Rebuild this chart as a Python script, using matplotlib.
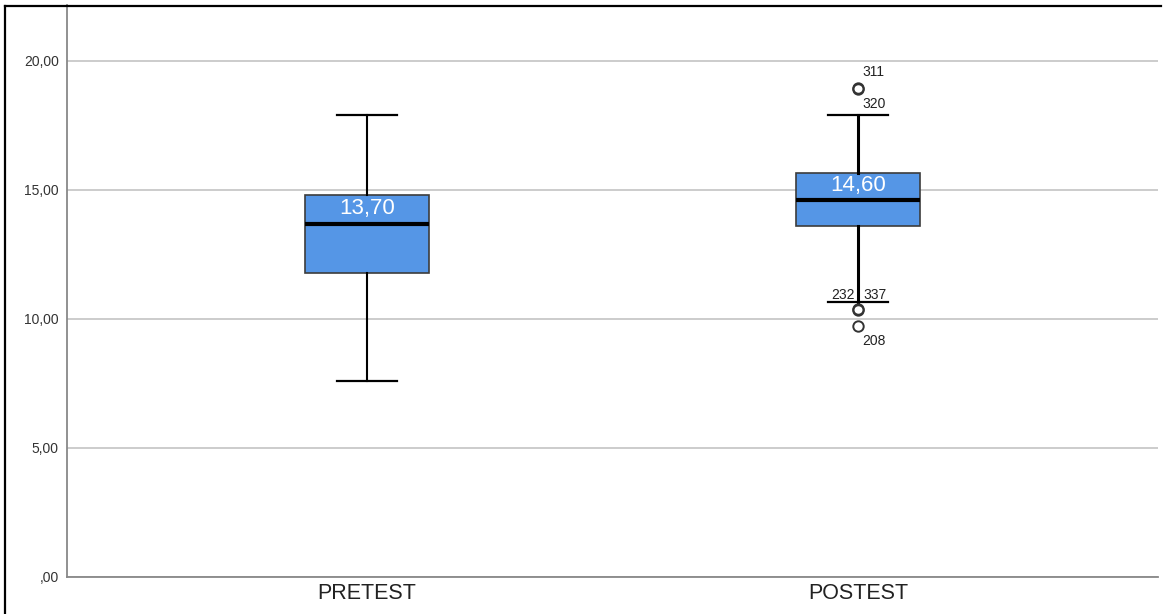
import matplotlib
matplotlib.use('Agg')
from matplotlib import pyplot as plt
from matplotlib.lines import Line2D

groups = ['PRETEST', 'POSTEST']
whislo = [7.6, 10.65]
q1 = [11.8, 13.6]
med = [13.7, 14.6]
q3 = [14.8, 15.65]
whishi = [17.9, 17.9]
fliers = [[], [18.95, 18.9, 10.4, 10.35, 9.73]]
median_labels = ['13,70', '14,60']
yticks = [0, 5, 10, 15, 20]
ytick_labels = [',00', '5,00', '10,00', '15,00', '20,00']

# outlier case numbers: (value, label, dx px, dy px, ha)
outlier_ids = [(18.95, '311', 4, 16, 'left'),
               (18.9, '320', 4, -15, 'left'),
               (10.4, '232', -3, 14, 'right'),
               (10.4, '337', 5, 14, 'left'),
               (9.73, '208', 4, -15, 'left')]

plt.rcParams['font.family'] = ['Liberation Sans', 'DejaVu Sans']

fig = plt.figure(figsize=(11.71, 6.14), dpi=100)
ax = fig.add_axes([67 / 1171, 37 / 614, (1158 - 67) / 1171, (577 - 5) / 614])

# whiskers of the postest box look heavier in the original
whisker_w = [1.5, 2.2]
for i in range(len(groups)):
    st = {'med': med[i], 'q1': q1[i], 'q3': q3[i],
          'whislo': whislo[i], 'whishi': whishi[i],
          'fliers': fliers[i], 'label': groups[i]}
    ax.bxp([st], positions=[i + 1], widths=0.2526, patch_artist=True,
           showfliers=True, capwidths=0.122,
           boxprops={'facecolor': '#5596e6', 'edgecolor': '#3c3c3c', 'linewidth': 1.2},
           medianprops={'color': 'black', 'linewidth': 3},
           whiskerprops={'color': 'black', 'linewidth': whisker_w[i]},
           capprops={'color': 'black', 'linewidth': 1.6},
           flierprops={'marker': 'o', 'markerfacecolor': 'none',
                       'markeredgecolor': '#333333', 'markersize': 7.5,
                       'markeredgewidth': 1.4},
           zorder=3)

for i, lab in enumerate(median_labels):
    ax.annotate(lab, (i + 1, med[i]), xytext=(0, 3), textcoords='offset points',
                ha='center', va='bottom', color='white', fontsize=16, zorder=5)

for val, lab, dx, dy, ha in outlier_ids:
    ax.annotate(lab, (2, val), xytext=(dx * 0.72, dy * 0.72), textcoords='offset points',
                ha=ha, va='center', fontsize=10, color='#222222', zorder=5)

ax.set_xlim(0.389, 2.611)
ax.set_ylim(0, 22.17)
ax.set_yticks(yticks)
ax.set_yticklabels(ytick_labels, fontsize=10, color='#333333')
ax.set_xticks([1, 2])
ax.set_xticklabels(groups, fontsize=15.5, color='#222222')
ax.tick_params(length=0, pad=6)
ax.tick_params(axis='x', pad=4)
ax.yaxis.grid(True, color='#c8c8c8', linewidth=1.3, zorder=0)
ax.set_axisbelow(True)
for s in ['top', 'right']:
    ax.spines[s].set_visible(False)
for s in ['left', 'bottom']:
    ax.spines[s].set_color('#888888')
    ax.spines[s].set_linewidth(1.3)

# outer frame (left and top edges)
fig.add_artist(Line2D([5.5 / 1171, 5.5 / 1171], [0, 1 - 5.5 / 614], color='black', linewidth=1.6))
fig.add_artist(Line2D([5.5 / 1171, 1161 / 1171], [1 - 5.5 / 614, 1 - 5.5 / 614], color='black', linewidth=1.6))

fig.savefig('out.png', dpi=100)
